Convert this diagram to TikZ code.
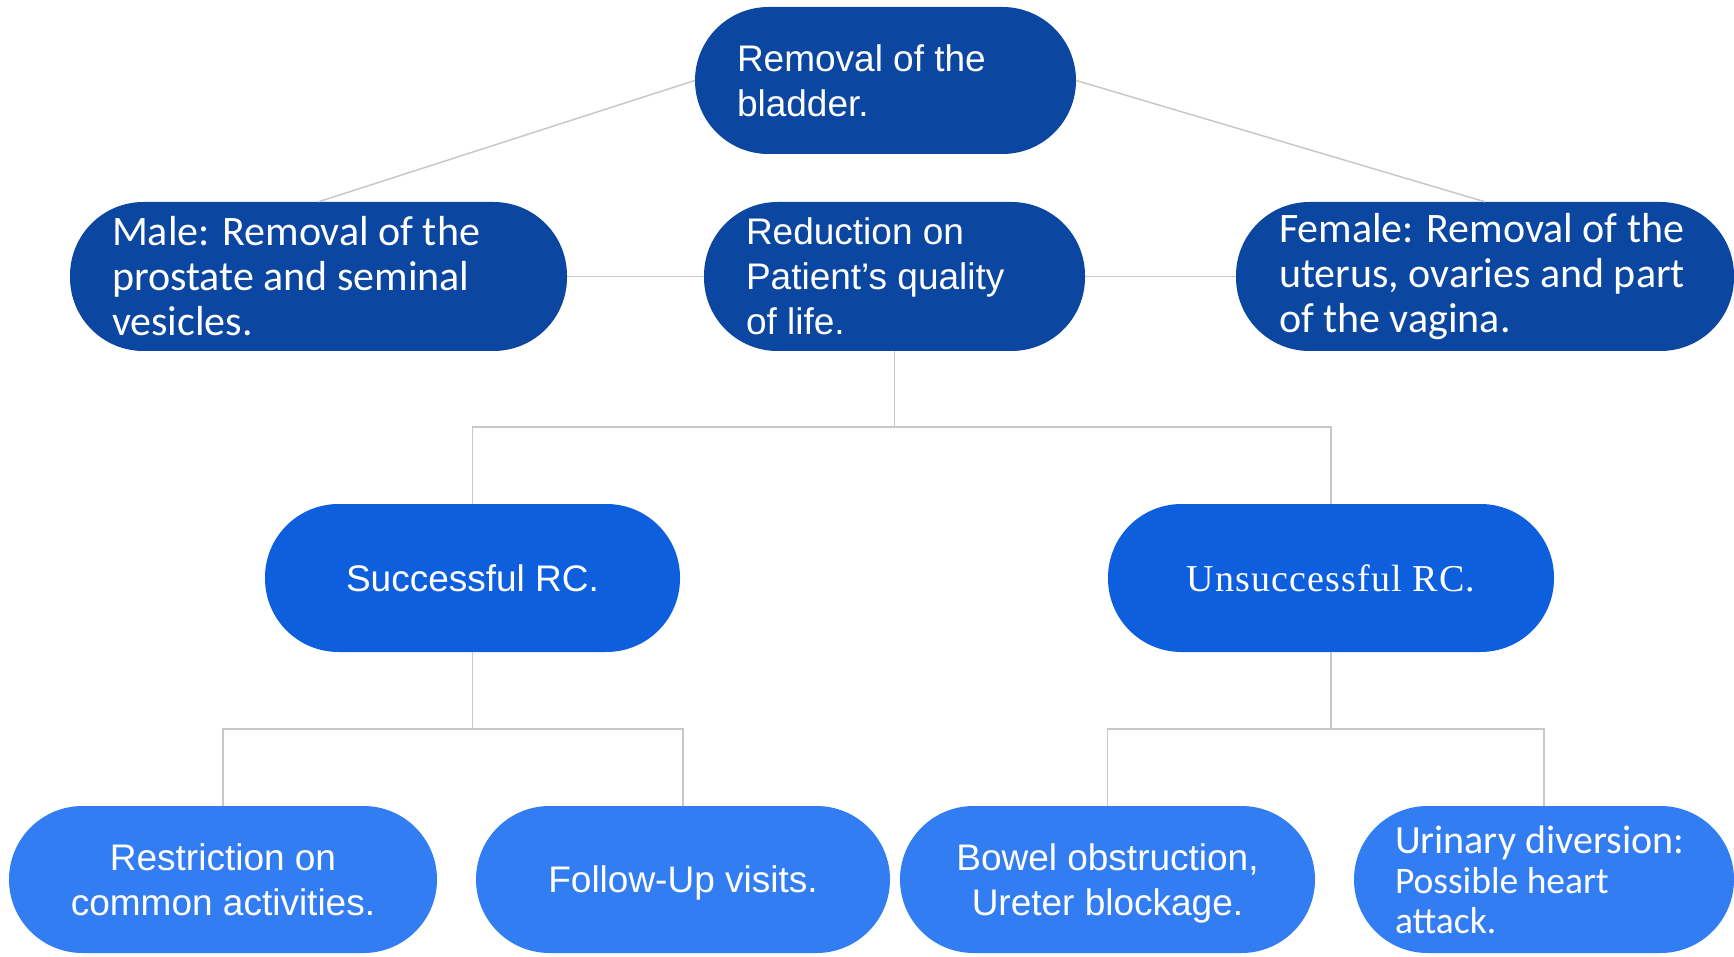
\documentclass[tikz,border=0pt]{standalone}
\usepackage{fontspec}
\setmainfont{Liberation Sans}
\newfontfamily\calibri{Carlito}
\newfontfamily\timessp[LetterSpace=3]{Liberation Serif}
\definecolor{darkblue}{HTML}{0B46A1}
\definecolor{midblue}{HTML}{0E5FDD}
\definecolor{lightblue}{HTML}{337DF2}
\definecolor{linegray}{HTML}{C8C8C8}
\begin{document}
\begin{tikzpicture}[x=1pt,y=-1pt,
  pill/.style={rectangle, rounded corners=73.5pt, text=white, inner ysep=0pt, anchor=center},
  leftpill/.style={pill, align=flush left, inner xsep=42pt},
  centerpill/.style={pill, align=center, inner xsep=0pt, text depth=0pt},
  arialtxt/.style={font=\fontsize{37}{45}\selectfont},
  calibritxt/.style={font=\calibri\fontsize{42}{45}\selectfont},
  conn/.style={draw=linegray, line width=1.5pt}
]
\useasboundingbox (0,0) rectangle (1734,957);
% top level
\node[leftpill, arialtxt, fill=darkblue, text width=297pt, minimum height=147pt] (top) at (885.5,80.5) {Removal of the\\bladder.};
\node[leftpill, calibritxt, fill=darkblue, text width=413pt, minimum height=149pt] (male) at (318.5,276.5) {\mbox{Male: Removal of the}\\\mbox{prostate and seminal}\\vesicles.};
\node[leftpill, arialtxt, fill=darkblue, text width=297pt, minimum height=149pt] (red) at (894.5,276.5) {Reduction on\\\mbox{Patient’s quality}\\of life.};
\node[leftpill, calibritxt, fill=darkblue, inner xsep=43pt, text width=412pt, minimum height=149pt] (fem) at (1485,276.5) {\mbox{Female: Removal of the}\\\mbox{uterus, ovaries and part}\\\mbox{of the vagina.}};
% RC level
\node[centerpill, arialtxt, fill=midblue, minimum width=415pt, minimum height=148pt] (succ) at (472.5,578) {Successful RC.};
\node[centerpill, fill=midblue, minimum width=446pt, minimum height=148pt, font=\timessp\fontsize{38}{45}\selectfont] (unsucc) at (1331,578) {Unsuccessful RC.};
% bottom level
\node[centerpill, arialtxt, fill=lightblue, minimum width=428pt, minimum height=147pt] (restr) at (223,879.5) {Restriction on\\common activities.};
\node[centerpill, arialtxt, fill=lightblue, minimum width=414pt, minimum height=147pt] (follow) at (683,879.5) {Follow-Up visits.};
\node[centerpill, arialtxt, fill=lightblue, minimum width=415pt, minimum height=147pt] (bowel) at (1107.5,879.5) {Bowel obstruction,\\Ureter blockage.};
\node[leftpill, fill=lightblue, inner xsep=41pt, text width=298pt, minimum height=147pt, font=\calibri\fontsize{40}{40}\selectfont] (urin) at (1544,879.5) {\mbox{Urinary diversion:}\\\fontsize{37.5}{40}\selectfont Possible heart\\attack.};
% connectors
\draw[conn] (top.west) -- (male.north);
\draw[conn] (top.east) -- (fem.north);
\draw[conn] (male.east) -- (red.west);
\draw[conn] (red.east) -- (fem.west);
\draw[conn] (red.south) -- (red.south |- 0,427);
\draw[conn] (succ.north) -- ++(0,-77) -| (unsucc.north);
\draw[conn] (succ.south) -- ++(0,77);
\draw[conn] (restr.north) -- ++(0,-77) -| (follow.north);
\draw[conn] (unsucc.south) -- ++(0,77);
\draw[conn] (bowel.north) -- ++(0,-77) -| (urin.north);
\end{tikzpicture}
\end{document}
